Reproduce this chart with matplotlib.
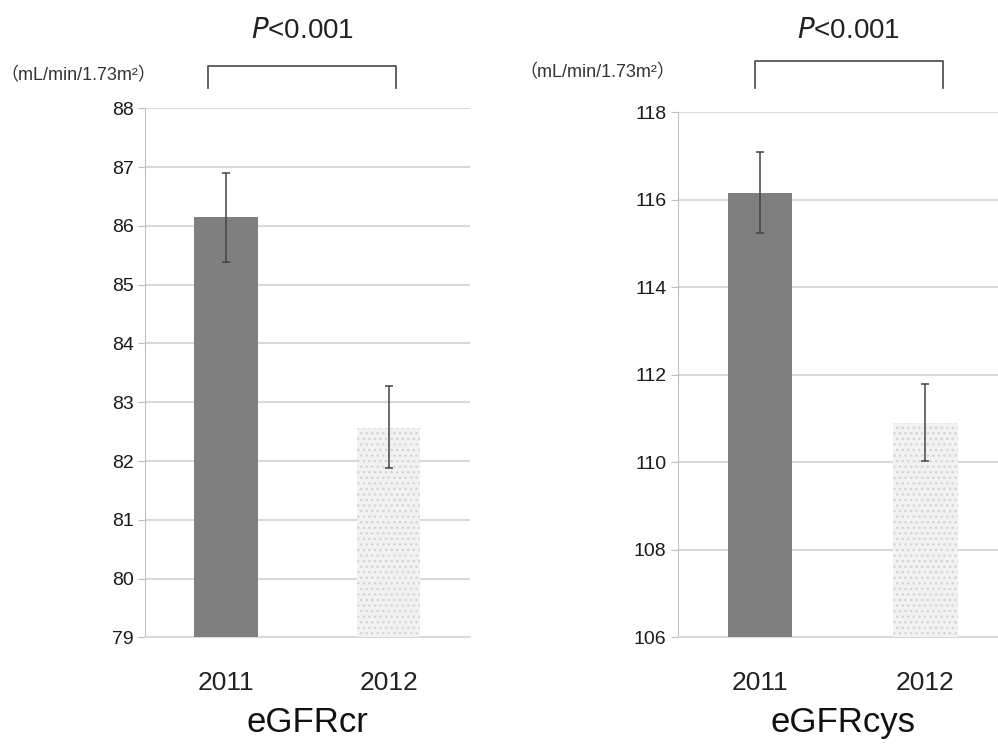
import matplotlib
matplotlib.use('Agg')
import matplotlib.pyplot as plt
import matplotlib.transforms as mtransforms

plt.rcParams['font.family'] = ['Liberation Sans', 'Noto Sans CJK JP', 'DejaVu Sans']
plt.rcParams['hatch.linewidth'] = 1.0

years = ['2011', '2012']
cr_mean = [86.15, 82.56]
cr_low = [85.38, 81.88]
cr_high = [86.91, 83.27]
cys_mean = [116.15, 110.89]
cys_low = [115.23, 110.02]
cys_high = [117.09, 111.78]
titles = ['eGFRcr', 'eGFRcys']
ylims = [(79, 88), (106, 118)]
yticks = [list(range(79, 89)), list(range(106, 119, 2))]
unit = '（mL/min/1.73m²）'
ptext = '$\\mathit{P}$<0.001'

fig = plt.figure(figsize=(9.98, 7.48), dpi=100)
ax1 = fig.add_axes([0.145, 0.148, 0.326, 0.707])
ax2 = fig.add_axes([0.679, 0.148, 0.331, 0.702])

panels = [(ax1, cr_mean, cr_low, cr_high, (-0.11, 1.045), 0.73, 0.34),
          (ax2, cys_mean, cys_low, cys_high, (-0.03, 1.105), 1.16, 0.56)]

for i, (ax, m, lo, hi, br, btop, bbot) in enumerate(panels):
    x = [0, 1]
    ax.bar(x[0], m[0], width=0.39, color='#7f7f7f', zorder=3)
    ax.bar(x[1], m[1], width=0.39, color='#f2f2f2', edgecolor='#d4d4d4',
           linewidth=0, hatch='...', zorder=3)
    err = [[m[j] - lo[j] for j in range(2)], [hi[j] - m[j] for j in range(2)]]
    ax.errorbar(x, m, yerr=err, fmt='none', ecolor='#444444', elinewidth=1.1,
                capsize=3, capthick=1.1, zorder=4)
    ax.set_xlim(-0.5, 1.5)
    ax.set_ylim(*ylims[i])
    ax.set_yticks(yticks[i])
    ax.set_xticks(x)
    ax.set_xticklabels(years, fontsize=19, color='#222222')
    ax.tick_params(axis='x', length=0, pad=24)
    ax.tick_params(axis='y', length=5, color='#bfbfbf', labelsize=14, pad=3,
                   labelcolor='#1a1a1a')
    ax.yaxis.grid(True, color='#d9d9d9', linewidth=1.5, zorder=0)
    ax.set_axisbelow(True)
    for s in ['top', 'right']:
        ax.spines[s].set_visible(False)
    ax.spines['left'].set_color('#bfbfbf')
    ax.spines['bottom'].set_color('#d9d9d9')
    ax.spines['bottom'].set_linewidth(1.5)
    ax.set_xlabel(titles[i], fontsize=25, labelpad=8, color='#111111')

    # significance bracket above the bars
    y0 = ylims[i][1]
    ax.plot([br[0], br[0], br[1], br[1]], [y0 + bbot, y0 + btop, y0 + btop, y0 + bbot],
            color='#555555', linewidth=1.3, clip_on=False)
    trans = mtransforms.blended_transform_factory(ax.transData, fig.transFigure)
    ax.text((br[0] + br[1]) / 2, 0.958, ptext, transform=trans, ha='center',
            va='center', fontsize=20, color='#222222', clip_on=False)

fig.text(0.0, 0.899, unit, fontsize=13, ha='left', va='center', color='#333333')
fig.text(0.52, 0.903, unit, fontsize=13, ha='left', va='center', color='#333333')

fig.savefig('out.png', dpi=100)
